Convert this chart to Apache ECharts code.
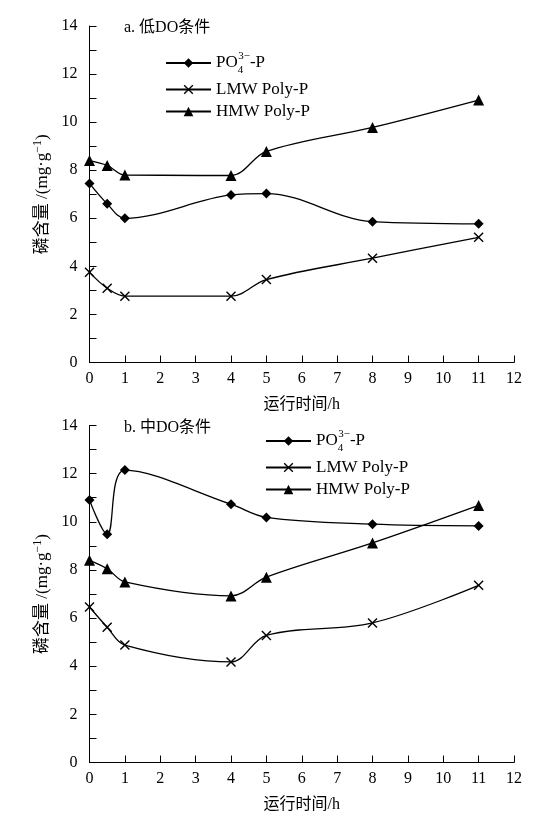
<!DOCTYPE html>
<html>
<head>
<meta charset="utf-8">
<script src="https://cdn.jsdelivr.net/npm/echarts@6/dist/echarts.min.js"></script>
<style>html,body{margin:0;padding:0;background:#fff}#c{width:560px;height:816px}</style>
</head>
<body>
<div id="c"></div>
<script>
// ---- data ----
const hours = [0, 0.5, 1, 4, 5, 8, 11];
const lowPO4 = [7.45, 6.6, 6.0, 6.97, 7.03, 5.86, 5.77];
const lowLMW = [3.75, 3.09, 2.76, 2.76, 3.45, 4.34, 5.21];
const lowHMW = [8.4, 8.2, 7.8, 7.78, 8.78, 9.78, 10.92];
const midPO4 = [10.9, 9.48, 12.15, 10.73, 10.18, 9.9, 9.83];
const midLMW = [6.46, 5.62, 4.88, 4.18, 5.28, 5.8, 7.36];
const midHMW = [8.4, 8.05, 7.5, 6.92, 7.7, 9.12, 10.68];
const seriesNames = ['PO4', 'LMW Poly-P', 'HMW Poly-P'];
const panelTitles = ['a. 低DO条件', 'b. 中DO条件'];
const xName = '运行时间/h';
const yName = '磷含量 /(mg·g{sup|−1})';

const FF = '"Liberation Serif", "Noto Sans CJK SC", serif';
const pairs = arr => hours.map((h, i) => [h, arr[i]]);
const crossPath = 'path://M0,1L1,0L5,4L9,0L10,1L6,5L10,9L9,10L5,6L1,10L0,9L4,5Z';
const symbols = ['diamond', crossPath, 'triangle'];
const sizes = [10, 10, 11];

function legendFmt(name) {
  const base = name.replace(/_[ab]$/, '');
  if (base === 'PO4') return 'PO{sub|4}{sup|3−}-P';
  return base;
}
const legendRich = {
  sub: { fontSize: 11, fontFamily: FF, padding: [15, 0, 0, 0], width: 0.5, color: '#000' },
  sup: { fontSize: 11, fontFamily: FF, padding: [0, 0, 13, 0], color: '#000' }
};

function xAxis(gi) {
  return {
    type: 'value', gridIndex: gi, min: 0, max: 12, interval: 1,
    name: xName, nameLocation: 'middle', nameGap: 34,
    nameTextStyle: { fontFamily: FF, fontSize: 16, color: '#000' },
    axisLine: { lineStyle: { color: '#000', width: 1 } },
    axisTick: { inside: true, length: 7, lineStyle: { color: '#000' } },
    axisLabel: { fontFamily: FF, fontSize: 16, color: '#000', margin: 8 },
    splitLine: { show: false }
  };
}
function yAxis(gi) {
  return {
    type: 'value', gridIndex: gi, min: 0, max: 14, interval: 1,
    name: yName, nameLocation: 'middle', nameGap: 34, nameRotate: 90,
    nameTextStyle: { fontFamily: FF, fontSize: 17, color: '#000',
      rich: { sup: { fontSize: 12, fontFamily: FF, padding: [0, 0, 9, 0], color: '#000' } } },
    axisLine: { show: true, lineStyle: { color: '#000', width: 1 } },
    axisTick: { show: true, inside: true, length: 7, lineStyle: { color: '#000' } },
    axisLabel: { fontFamily: FF, fontSize: 16, color: '#000', margin: 12,
      formatter: v => (v % 2 === 0 ? String(v) : '') },
    splitLine: { show: false }
  };
}
function mkSeries(name, arr, k, gi) {
  return {
    name: name, type: 'line', xAxisIndex: gi, yAxisIndex: gi,
    data: pairs(arr), smooth: 0.35,
    symbol: symbols[k], symbolSize: sizes[k], showAllSymbol: true,
    lineStyle: { color: '#000', width: 1.3 },
    itemStyle: { color: '#000', borderWidth: 0 },
    emphasis: { disabled: true }
  };
}

const legendText = { fontFamily: FF, fontSize: 17, lineHeight: 17, color: '#000', rich: legendRich };
const chart = echarts.init(document.getElementById('c'), null, { renderer: 'canvas' });
chart.setOption({
  animation: false,
  backgroundColor: '#fff',
  title: [
    { text: panelTitles[0], left: 119, top: 15, textStyle: { fontFamily: FF, fontSize: 16, fontWeight: 'normal', color: '#000' } },
    { text: panelTitles[1], left: 119, top: 415, textStyle: { fontFamily: FF, fontSize: 16, fontWeight: 'normal', color: '#000' } }
  ],
  legend: [
    { orient: 'vertical', left: 160, top: 46, itemWidth: 45, itemHeight: 12, itemGap: 5,
      data: seriesNames.map(n => n + '_a'), formatter: legendFmt,
      textStyle: legendText, selectedMode: false },
    { orient: 'vertical', left: 260, top: 424, itemWidth: 45, itemHeight: 12, itemGap: 5,
      data: seriesNames.map(n => n + '_b'), formatter: legendFmt,
      textStyle: legendText, selectedMode: false }
  ],
  grid: [
    { left: 89.5, right: 46, top: 26, height: 336.5 },
    { left: 89.5, right: 46, top: 425.5, height: 337 }
  ],
  xAxis: [xAxis(0), xAxis(1)],
  yAxis: [yAxis(0), yAxis(1)],
  series: [
    mkSeries('PO4_a', lowPO4, 0, 0),
    mkSeries('LMW Poly-P_a', lowLMW, 1, 0),
    mkSeries('HMW Poly-P_a', lowHMW, 2, 0),
    mkSeries('PO4_b', midPO4, 0, 1),
    mkSeries('LMW Poly-P_b', midLMW, 1, 1),
    mkSeries('HMW Poly-P_b', midHMW, 2, 1)
  ]
});
</script>
</body>
</html>
